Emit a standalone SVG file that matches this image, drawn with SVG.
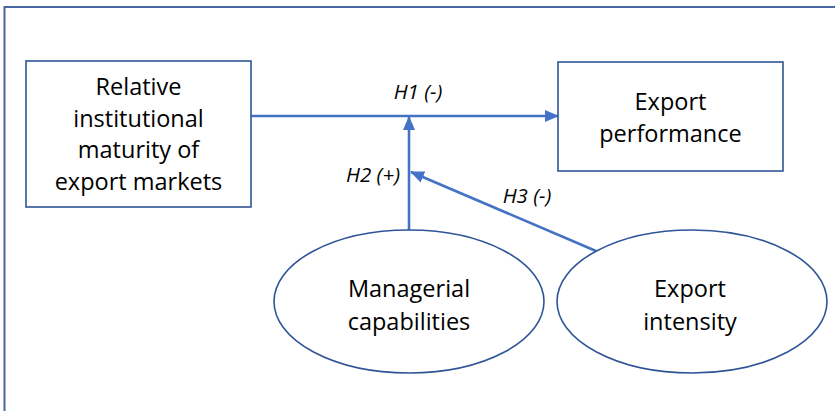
<svg xmlns="http://www.w3.org/2000/svg" width="835" height="411" viewBox="0 0 835 411">
<style>
.node{fill:#fff;stroke:#2F5597;stroke-width:1.6}
.t{font-family:"Open Sans","Noto Sans",sans-serif;font-size:23.5px;fill:#000;text-anchor:middle}
.lbl{font-family:"Open Sans","Noto Sans",sans-serif;font-size:20.5px;font-style:italic;fill:#000;text-anchor:middle}
.c{stroke:#4472C4;stroke-width:2.6;fill:none}
</style>
<defs>
<marker id="ah" markerUnits="userSpaceOnUse" markerWidth="14" markerHeight="12" viewBox="0 0 14 12" refX="13" refY="6" orient="auto">
<path d="M0,0 L14,6 L0,12 Z" fill="#4472C4"/>
</marker>
</defs>
<rect x="4.5" y="7" width="900" height="500" fill="#fff" stroke="#4A66A0" stroke-width="2"/>
<g id="connectors">
<line class="c" x1="251" y1="116" x2="558" y2="116" marker-end="url(#ah)"/>
<line class="c" x1="409" y1="230" x2="409" y2="117" marker-end="url(#ah)"/>
<line class="c" x1="596" y1="251" x2="411" y2="172" marker-end="url(#ah)"/>
<text class="lbl" x="418" y="99">H1 (-)</text>
<text class="lbl" x="373" y="182">H2 (+)</text>
<text class="lbl" x="527" y="203">H3 (-)</text>
</g>
<g id="relative-maturity">
<rect class="node" x="26" y="61" width="225" height="146"/>
<text class="t" x="138.5" y="95">Relative</text>
<text class="t" x="138.5" y="127">institutional</text>
<text class="t" x="138.5" y="158">maturity of</text>
<text class="t" x="138.5" y="190">export markets</text>
</g>
<g id="export-performance">
<rect class="node" x="558" y="62" width="225" height="109"/>
<text class="t" x="670.5" y="110">Export</text>
<text class="t" x="670.5" y="142">performance</text>
</g>
<g id="managerial-capabilities">
<ellipse class="node" cx="409" cy="301.5" rx="135" ry="71.5"/>
<text class="t" x="409" y="297">Managerial</text>
<text class="t" x="409" y="330">capabilities</text>
</g>
<g id="export-intensity">
<ellipse class="node" cx="692" cy="301.5" rx="135" ry="71.5"/>
<text class="t" x="690" y="297">Export</text>
<text class="t" x="690" y="330">intensity</text>
</g>
</svg>
